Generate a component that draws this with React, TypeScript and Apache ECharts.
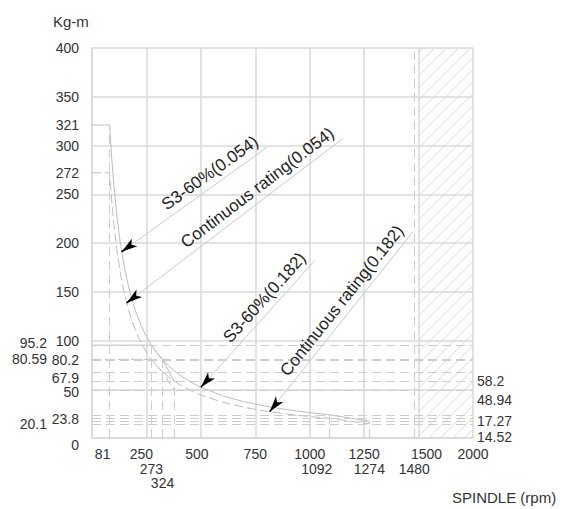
import React, { useEffect, useRef } from "react";
import * as echarts from "echarts";

// ---- tick labels ----
const xTicksRow1 = [81, 250, 500, 750, 1000, 1250, 1500, 2000];
const xTicksRow2 = [273, 378, 1092, 1274, 1480];
const xTicksRow3 = [324];
const yTicksLeft = [0, 23.8, 50, 67.9, 80.2, 100, 150, 200, 250, 272, 300, 321, 350, 400];
const yTicksLeftOuterA = [20.1, 95.2];
const yTicksLeftOuterB = [80.59];
const yTicksRightA = [14.52, 48.94];
const yTicksRightB = [17.27, 58.2];

// ---- curves (rpm, Kg-m) ----
const rpmLow = [0, 81, 90, 100, 115, 130, 150, 175, 200, 225, 250, 273, 300, 324, 378];
const s3Low = [321, 321, 288.9, 260, 226.1, 200, 173.3, 148.6, 130, 115.6, 104, 95.2, 86.7, 80.2, 58.2];
const contLow = [272, 272, 244.8, 220.3, 191.6, 169.5, 146.9, 125.9, 110.2, 97.9, 88.1, 80.6, 73.4, 67.9, 48.94];
const rpmHigh = [0, 273, 300, 350, 400, 450, 500, 600, 700, 800, 900, 1000, 1092, 1274];
const s3High = [95.2, 95.2, 86.7, 74.3, 65, 57.8, 52, 43.3, 37.1, 32.5, 28.9, 26, 23.8, 17.27];
const contHigh = [80.59, 80.59, 73.3, 62.9, 55, 48.9, 44, 36.7, 31.4, 27.5, 24.4, 22, 20.1, 14.52];

// ---- reference lines ----
const refRpm = [81, 273, 324, 378, 1092, 1274, 1480];
const refRpmTop = [321, 95.2, 80.2, 58.2, 23.8, 17.27, 400];
const refTorque = [95.2, 80.59, 80.2, 67.9, 58.2, 48.94, 23.8, 20.1, 17.27, 14.52];

// ---- annotations ----
const annotations = ["S3-60%(0.054)", "Continuous rating(0.054)", "S3-60%(0.182)", "Continuous rating(0.182)"];
const annotFrom = [[136, 191], [159, 138.5], [500, 52], [816, 27]];
const annotTo = [[803, 298], [1151, 307], [1023, 182], [1472, 211]];

// ---- forbidden (hatched) range ----
const hatchRpm = [1500, 2000];
const rpmMax = 2000;

const X_BREAK = 1500;
const toAxis = (r: number) => (r <= X_BREAK ? r : X_BREAK + (r - X_BREAK) / 2);
const fromAxis = (v: number) => (v <= X_BREAK ? v : X_BREAK + (v - X_BREAK) * 2);

const FONT = "'Liberation Sans', Arial, Helvetica, sans-serif";
const TEXT = "#333";
const GRID = "#d9d9d9";
const REF = "#cdcdcd";
const CURVE = "#bdbdbd";

// label nudges (style only)
const xNudge: Record<string, number> = { "81": -7, "250": -5, "500": -4, "1500": 8, "378": 7, "1092": -13 };
const yNudge: Record<string, number> = { "67.9": 6, "50": 3, "23.8": 4, "0": 7, "20.1": 6, "48.94": 10, "14.52": 13, "95.2": -2 };

function fmtNum(v: number) {
  return String(Math.round(v * 1000) / 1000);
}

function xRich() {
  const rich: any = {};
  Object.keys(xNudge).forEach((k, i) => {
    const d = xNudge[k];
    rich["h" + i] = { padding: d > 0 ? [0, 0, 0, 2 * d] : [0, -2 * d, 0, 0] };
  });
  return rich;
}
function xFormatter(v: number) {
  const s = fmtNum(fromAxis(v));
  const keys = Object.keys(xNudge);
  const i = keys.indexOf(s);
  return i >= 0 ? `{h${i}|${s}}` : s;
}
function yRich() {
  const rich: any = { t: { lineHeight: 15 } };
  Object.keys(yNudge).forEach((k, i) => {
    rich["v" + i] = { lineHeight: 2 * Math.abs(yNudge[k]), fontSize: 1 };
  });
  return rich;
}
function yFormatter(v: number) {
  const s = fmtNum(v);
  const keys = Object.keys(yNudge);
  const i = keys.indexOf(s);
  if (i < 0) return s;
  return yNudge[s] > 0 ? `{v${i}| }\n{t|${s}}` : `{t|${s}}\n{v${i}| }`;
}

export default function App() {
  const ref = useRef<HTMLDivElement>(null);

  useEffect(() => {
    if (!ref.current) return;
    const chart = echarts.init(ref.current, undefined, { renderer: "svg" });
    const xMax = toAxis(rpmMax);

    const labelStyle = { fontSize: 14, color: TEXT, fontFamily: FONT };
    const baseX = { type: "value", min: 0, max: xMax, gridIndex: 0, position: "bottom" };
    const labelAxisX = (vals: number[], offset: number) => ({
      ...baseX,
      offset,
      axisLine: { show: false },
      axisTick: { show: false },
      splitLine: { show: false },
      axisLabel: {
        show: true,
        customValues: vals.map(toAxis),
        formatter: xFormatter,
        margin: 9,
        showMinLabel: true,
        showMaxLabel: true,
        hideOverlap: false,
        rich: xRich(),
        ...labelStyle,
        lineHeight: 14,
      },
    });
    const baseY = { type: "value", min: 0, max: 400, gridIndex: 0 };
    const labelAxisY = (vals: number[], position: string, offset: number, margin: number) => ({
      ...baseY,
      position,
      offset,
      axisLine: { show: false },
      axisTick: { show: false },
      splitLine: { show: false },
      axisLabel: {
        show: true,
        customValues: vals,
        formatter: yFormatter,
        margin,
        showMinLabel: true,
        showMaxLabel: true,
        hideOverlap: false,
        rich: yRich(),
        ...labelStyle,
      },
    });

    const refLines: any[] = [];
    refRpm.forEach((r, i) => {
      refLines.push([{ coord: [toAxis(r), 0] }, { coord: [toAxis(r), refRpmTop[i]] }]);
    });
    refTorque.forEach((t) => {
      refLines.push([{ coord: [0, t] }, { coord: [xMax, t] }]);
    });
    annotations.forEach((txt, i) => {
      const a = annotFrom[i];
      const b = annotTo[i];
      refLines.push([
        {
          coord: [toAxis(a[0]), a[1]],
          symbol: "none",
          lineStyle: { color: "#c9c9c9", type: "solid", width: 1 },
          label: {
            show: true,
            position: "insideEndTop",
            formatter: txt,
            fontSize: 17,
            color: "#222",
            fontFamily: FONT,
            distance: 4,
          },
        },
        { coord: [toAxis(b[0]), b[1]], symbol: "none" },
      ]);
      const k = 0.035;
      refLines.push([
        {
          coord: [toAxis(a[0]), a[1]],
          symbol: "arrow",
          symbolSize: [7, 16],
          lineStyle: { color: "#000", type: "solid", width: 1.5 },
          label: { show: false },
        },
        {
          coord: [toAxis(a[0] + (b[0] - a[0]) * k), a[1] + (b[1] - a[1]) * k],
          symbol: "none",
        },
      ]);
    });

    const curve = (name: string, xs: number[], ys: number[], dashed: boolean) => ({
      name,
      type: "line",
      xAxisIndex: 0,
      yAxisIndex: 0,
      symbol: "none",
      data: xs.map((x, i) => [toAxis(x), ys[i]]),
      lineStyle: { color: CURVE, width: 1, type: dashed ? [9, 4] : "solid" },
      z: 3,
    });

    chart.setOption({
      animation: false,
      grid: { left: 92, right: 90, top: 48, bottom: 71, containLabel: false },
      xAxis: [
        {
          ...baseX,
          interval: 250,
          axisLine: { show: true, onZero: false, lineStyle: { color: GRID, width: 1.5 } },
          axisTick: { show: false },
          axisLabel: { show: false },
          splitLine: { show: true, lineStyle: { color: GRID, width: 1.5 } },
        },
        labelAxisX(xTicksRow1, 0),
        labelAxisX(xTicksRow2, 15),
        labelAxisX(xTicksRow3, 29),
      ],
      yAxis: [
        {
          ...baseY,
          position: "left",
          interval: 50,
          axisLine: { show: true, onZero: false, lineStyle: { color: GRID, width: 1.5 } },
          axisTick: { show: false },
          axisLabel: { show: false },
          splitLine: { show: true, lineStyle: { color: GRID, width: 1.5 } },
        },
        labelAxisY(yTicksLeft, "left", 0, 13),
        labelAxisY(yTicksLeftOuterA, "left", 32, 13),
        labelAxisY(yTicksLeftOuterB, "left", 32, 13),
        labelAxisY(yTicksRightA, "right", 0, 4),
        labelAxisY(yTicksRightB, "right", 0, 4),
      ],
      graphic: [
        { type: "text", left: 53, top: 14, style: { text: "Kg-m", fontSize: 15, fill: TEXT, fontFamily: FONT } },
        { type: "text", left: 452, top: 490, style: { text: "SPINDLE (rpm)", fontSize: 15, fill: TEXT, fontFamily: FONT } },
      ],
      series: [
        {
          type: "custom",
          xAxisIndex: 0,
          yAxisIndex: 0,
          silent: true,
          clip: true,
          encode: { x: [0, 2], y: [1, 3] },
          data: [[toAxis(hatchRpm[0]), 0, toAxis(hatchRpm[1]), 400]],
          renderItem: (params: any, api: any) => {
            const p0 = api.coord([api.value(0), api.value(1)]);
            const p1 = api.coord([api.value(2), api.value(3)]);
            const x0 = p0[0], y1 = p0[1], x1 = p1[0], y0 = p1[1];
            const step = 12;
            const children: any[] = [];
            for (let c = x0 + y0 + 4; c <= x1 + y1; c += step) {
              const xa = Math.max(x0, c - y1);
              const xb = Math.min(x1, c - y0);
              if (xb <= xa) continue;
              children.push({
                type: "line",
                shape: { x1: xa, y1: c - xa, x2: xb, y2: c - xb },
                style: { stroke: "#d6d6d6", lineWidth: 1 },
              });
            }
            return { type: "group", children };
          },
          z: 1,
        },
        curve("S3-60%(0.054)", rpmLow, s3Low, false),
        curve("Continuous rating(0.054)", rpmLow, contLow, true),
        curve("S3-60%(0.182)", rpmHigh, s3High, false),
        curve("Continuous rating(0.182)", rpmHigh, contHigh, true),
        {
          name: "refs",
          type: "line",
          xAxisIndex: 0,
          yAxisIndex: 0,
          symbol: "none",
          data: [[0, 0]],
          lineStyle: { opacity: 0 },
          z: 2,
          markLine: {
            silent: true,
            animation: false,
            symbol: ["none", "none"],
            lineStyle: { color: REF, type: [9, 5], width: 1 },
            label: { show: false },
            emphasis: { disabled: true },
            data: refLines,
          },
        },
      ],
    });
    return () => chart.dispose();
  }, []);

  return (
    <div
      ref={ref}
      style={{ position: "fixed", left: 0, top: 0, width: 563, height: 509, background: "#fff" }}
    />
  );
}
